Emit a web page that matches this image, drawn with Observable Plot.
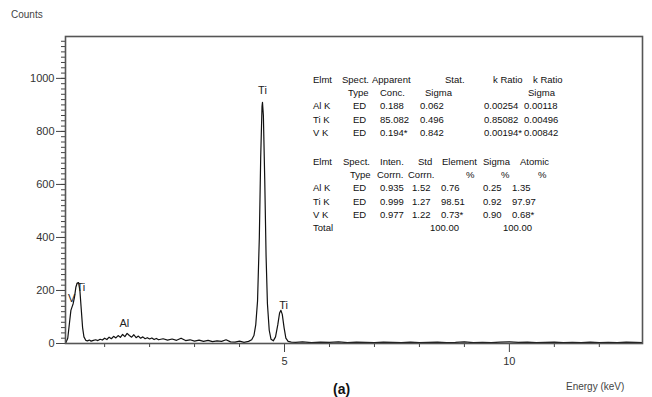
<!DOCTYPE html>
<html><head><meta charset="utf-8">
<script src="https://cdn.jsdelivr.net/npm/d3@7"></script>
<script src="https://cdn.jsdelivr.net/npm/@observablehq/plot@0.6"></script>
<style>
body{margin:0;background:#fff;}
#wrap{position:relative;width:652px;height:397px;overflow:hidden;font-family:"Liberation Sans",Arial,sans-serif;}
#wrap svg{position:absolute;left:0;top:0;}
.t{position:absolute;font-size:9.5px;color:#111;white-space:nowrap;line-height:1;transform:translateY(-50%);}
.lbl{position:absolute;font-size:10px;color:#444;white-space:nowrap;line-height:1;}
</style></head><body><div id="wrap"></div>
<script>
// ---- data ----
const spectrum = [
 [0.13,0],[0.18,20],[0.22,80],[0.25,125],[0.28,140],[0.30,150],[0.33,175],[0.36,212],[0.39,228],[0.42,230],
 [0.45,200],[0.48,130],[0.51,60],[0.54,25],[0.58,12],[0.62,10],[0.66,13],[0.70,9],[0.75,12],[0.80,14],
 [0.85,11],[0.90,16],[0.95,13],[1.00,20],[1.05,15],[1.10,24],[1.15,18],[1.20,27],[1.25,21],[1.30,30],
 [1.35,23],[1.40,34],[1.45,26],[1.50,38],[1.55,30],[1.60,24],[1.65,33],[1.70,22],[1.75,28],[1.80,20],
 [1.85,25],[1.90,18],[1.95,22],[2.00,17],[2.05,21],[2.10,15],[2.15,19],[2.20,14],[2.30,18],[2.40,13],
 [2.50,17],[2.60,12],[2.70,20],[2.80,11],[2.90,14],[3.00,9],[3.10,13],[3.20,8],[3.30,12],[3.40,7],
 [3.50,10],[3.60,8],[3.70,14],[3.80,6],[3.90,5],[4.00,9],[4.10,4],[4.20,8],[4.27,14],[4.32,30],
 [4.36,70],[4.40,160],[4.44,400],[4.47,700],[4.50,895],[4.51,910],[4.53,860],[4.56,620],[4.59,330],[4.62,150],
 [4.66,50],[4.70,16],[4.75,10],[4.80,25],[4.85,70],[4.89,115],[4.92,125],[4.95,110],[4.99,60],[5.03,20],
 [5.08,8],[5.15,5],[5.25,4],[5.4,6],[5.6,3],[5.8,5],[6.0,4],[6.2,6],[6.4,3],[6.6,5],
 [6.8,4],[7.0,3],[7.2,5],[7.4,4],[7.6,3],[7.8,5],[8.0,3],[8.2,4],[8.4,5],[8.6,3],
 [8.8,4],[9.0,6],[9.2,3],[9.4,4],[9.6,3],[9.8,5],[10.0,6],[10.2,4],[10.4,5],[10.6,3],
 [10.8,4],[11.0,5],[11.2,3],[11.4,4],[11.6,3],[11.8,5],[12.0,3],[12.2,4],[12.4,3],[12.6,5],
 [12.8,4],[12.96,3]
];
const peakLabels = [
 {e:4.51, c:955, t:"Ti"},
 {e:0.47, c:212, t:"Ti"},
 {e:4.98, c:143, t:"Ti"},
 {e:1.44, c:75,  t:"Al"},
 {e:0.27, c:168, t:"V"}
];
const yMajorTicks = [0,200,400,600,800,1000];
const yMinorTicks = d3.range(0, 1160, 20);
const xMajorTicks = [5,10];
const xMinorTicks = [1,2,3,4,6,7,8,9,11,12];

const t1Header = ["Elmt","Spect.","Apparent","Stat.","k Ratio","k Ratio"];
const t1Sub    = ["","Type","Conc.","Sigma","","Sigma"];
const t1Rows = [
 ["Al K","ED","0.188","0.062","0.00254","0.00118"],
 ["Ti K","ED","85.082","0.496","0.85082","0.00496"],
 ["V K","ED","0.194*","0.842","0.00194*","0.00842"]
];
const t2Header = ["Elmt","Spect.","Inten.","Std","Element","Sigma","Atomic"];
const t2Sub    = ["","Type","Corrn.","Corrn.","%","%","%"];
const t2Rows = [
 ["Al K","ED","0.935","1.52","0.76","0.25","1.35"],
 ["Ti K","ED","0.999","1.27","98.51","0.92","97.97"],
 ["V K","ED","0.977","1.22","0.73*","0.90","0.68*"]
];
const t2Total = ["Total","","","","100.00","","100.00"];

// ---- chart ----
const chart = Plot.plot({
  width: 652, height: 397,
  marginLeft: 65, marginRight: 10, marginTop: 36, marginBottom: 54,
  style: {fontFamily: '"Liberation Sans", Arial, sans-serif', color: "#333", background: "transparent"},
  x: {domain: [0.13, 12.96]},
  y: {domain: [0, 1158]},
  marks: [
    Plot.axisY({ticks: yMinorTicks, tickSize: 4, tickFormat: () => "", label: null, stroke: "#444"}),
    Plot.axisY({ticks: yMajorTicks, tickSize: 9, tickPadding: 2, fontSize: 11, tickFormat: d => String(d), label: null, stroke: "#444"}),
    Plot.axisX({ticks: xMinorTicks, tickSize: 4, tickFormat: () => "", label: null, stroke: "#444"}),
    Plot.axisX({ticks: xMajorTicks, tickSize: 9, tickPadding: 5, fontSize: 11, tickFormat: d => String(d), label: null, stroke: "#444"}),
    Plot.line(spectrum, {x: d => d[0], y: d => d[1], stroke: "#111", strokeWidth: 1.2}),
    Plot.text(peakLabels, {x: "e", y: "c", text: "t", fontSize: 11, fill: "#222"}),
    Plot.frame({stroke: "#555", strokeWidth: 1.6})
  ]
});
const wrap = document.getElementById("wrap");
wrap.appendChild(chart);

function addText(cls, txt, x, y, extra) {
  const s = document.createElement("span");
  s.className = cls; s.textContent = txt;
  s.style.left = x + "px"; s.style.top = y + "px";
  if (extra) Object.assign(s.style, extra);
  wrap.appendChild(s);
}
addText("lbl", "Counts", 11, 10);
addText("lbl", "Energy (keV)", 566, 382);
addText("lbl", "(a)", 333, 382, {fontSize: "14px", fontWeight: "bold", color: "#111"});

// table layout
const t1HeadX = [313,342,372,445,493,533];
const t1SubX  = [0,348,380,425,0,528];
const t1RowX  = [313,353,380,420,484,524];
const t1Y = [80,93,106,120,133];
t1Header.forEach((v,i)=>{ if(v) addText("t", v, t1HeadX[i], t1Y[0]); });
t1Sub.forEach((v,i)=>{ if(v) addText("t", v, t1SubX[i], t1Y[1]); });
t1Rows.forEach((r,j)=> r.forEach((v,i)=>{ if(v) addText("t", v, t1RowX[i], t1Y[j+2]); }));

const t2HeadX = [313,343,380,418,442,483,520];
const t2SubX  = [0,350,377,408,466,501,538];
const t2RowX  = [313,353,380,412,441,483,512];
const t2Y = [162,175,188,202,215,228];
t2Header.forEach((v,i)=>{ if(v) addText("t", v, t2HeadX[i], t2Y[0]); });
t2Sub.forEach((v,i)=>{ if(v) addText("t", v, t2SubX[i], t2Y[1]); });
t2Rows.forEach((r,j)=> r.forEach((v,i)=>{ if(v) addText("t", v, t2RowX[i], t2Y[j+2]); }));
const t2TotalX = [313,0,0,0,430,0,503];
t2Total.forEach((v,i)=>{ if(v) addText("t", v, t2TotalX[i], t2Y[5]); });
</script></body></html>
